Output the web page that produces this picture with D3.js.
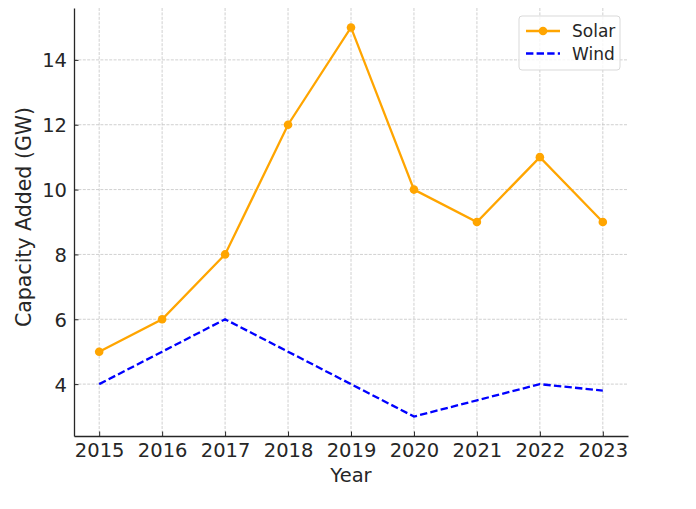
<!DOCTYPE html>
<html lang="en">
<head>
<meta charset="UTF-8">
<script src="https://d3js.org/d3.v7.min.js"></script>
<style>
  body { margin: 0; overflow: hidden; background: #fff; }
  text { font-family: "DejaVu Sans", sans-serif; fill: #262626; }
</style>
</head>
<body>
<script>
const years = [2015, 2016, 2017, 2018, 2019, 2020, 2021, 2022, 2023];
const solar = [5, 6, 8, 12, 15, 10, 9, 11, 9];
const wind = [4, 5, 6, 5, 4, 3, 3.5, 4, 3.8];
const yTicks = [4, 6, 8, 10, 12, 14];

const width = 696, height = 509;
const margin = {top: 8, right: 68, bottom: 73, left: 74};

const svg = d3.select('body').append('svg')
  .attr('width', width)
  .attr('height', height);

const x = d3.scaleLinear()
  .domain([2014.6, 2023.4])
  .range([margin.left, width - margin.right]);

const y = d3.scaleLinear()
  .domain([2.4, 15.6])
  .range([height - margin.bottom, margin.top]);

// grid
svg.append('g')
  .selectAll('line')
  .data(years)
  .join('line')
  .attr('x1', d => x(d)).attr('x2', d => x(d))
  .attr('y1', margin.top).attr('y2', height - margin.bottom)
  .attr('stroke', '#c4c4c4').attr('stroke-width', 0.8)
  .attr('stroke-dasharray', '3,1.4');

svg.append('g')
  .selectAll('line')
  .data(yTicks)
  .join('line')
  .attr('x1', margin.left).attr('x2', width - margin.right)
  .attr('y1', d => y(d)).attr('y2', d => y(d))
  .attr('stroke', '#c4c4c4').attr('stroke-width', 0.8)
  .attr('stroke-dasharray', '3,1.4');

// axes, ticks pointing inward
const xAxis = svg.append('g')
  .attr('transform', `translate(0,${height - margin.bottom})`)
  .call(d3.axisBottom(x).tickValues(years).tickFormat(d3.format('d')).tickSize(-4.5).tickSizeOuter(0));
const yAxis = svg.append('g')
  .attr('transform', `translate(${margin.left},0)`)
  .call(d3.axisLeft(y).tickValues(yTicks).tickSize(-4.5).tickSizeOuter(0));

[xAxis, yAxis].forEach(g => {
  g.select('.domain').attr('stroke', '#262626').attr('stroke-width', 1.3);
  g.selectAll('.tick line').attr('stroke', '#262626').attr('stroke-width', 1);
  g.selectAll('.tick text').style('font-size', '19.5px').style('font-family', '"DejaVu Sans", sans-serif').attr('fill', '#262626');
});
xAxis.selectAll('.tick text').attr('dy', 0).attr('y', 21);
yAxis.selectAll('.tick text').attr('x', -7).attr('dy', '0.36em');

svg.append('text')
  .attr('x', x(2019))
  .attr('y', 482)
  .attr('text-anchor', 'middle')
  .style('font-size', '19.5px')
  .text('Year');

svg.append('text')
  .attr('transform', `translate(31,217) rotate(-90)`)
  .attr('text-anchor', 'middle')
  .style('font-size', '20.5px')
  .text('Capacity Added (GW)');

const line = d3.line()
  .x((d, i) => x(years[i]))
  .y(d => y(d));

svg.append('path')
  .datum(wind)
  .attr('fill', 'none')
  .attr('stroke', '#0000ff')
  .attr('stroke-width', 2.3)
  .attr('stroke-dasharray', '7.4,3.2')
  .attr('d', line);

svg.append('path')
  .datum(solar)
  .attr('fill', 'none')
  .attr('stroke', '#ffa500')
  .attr('stroke-width', 2.3)
  .attr('d', line);

svg.selectAll('circle.solar')
  .data(solar)
  .join('circle')
  .attr('class', 'solar')
  .attr('cx', (d, i) => x(years[i]))
  .attr('cy', d => y(d))
  .attr('r', 4.3)
  .attr('fill', '#ffa500');

// legend
const legend = svg.append('g').attr('transform', 'translate(519,16)');
legend.append('rect')
  .attr('width', 101).attr('height', 54)
  .attr('rx', 3)
  .attr('fill', '#fff').attr('fill-opacity', 0.8)
  .attr('stroke', '#d9d9d9');
const items = [
  {label: 'Solar', color: '#ffa500', dash: null, marker: true},
  {label: 'Wind', color: '#0000ff', dash: '7.4,3.2', marker: false}
];
items.forEach((it, i) => {
  const cy = 15 + i * 22.5;
  legend.append('line')
    .attr('x1', 7).attr('x2', 41)
    .attr('y1', cy).attr('y2', cy)
    .attr('stroke', it.color).attr('stroke-width', 2.3)
    .attr('stroke-dasharray', it.dash);
  if (it.marker) {
    legend.append('circle').attr('cx', 24).attr('cy', cy).attr('r', 4.3).attr('fill', it.color);
  }
  legend.append('text')
    .attr('x', 53).attr('y', cy)
    .attr('dy', '0.36em')
    .style('font-size', '17px')
    .text(it.label);
});
</script>
</body>
</html>
